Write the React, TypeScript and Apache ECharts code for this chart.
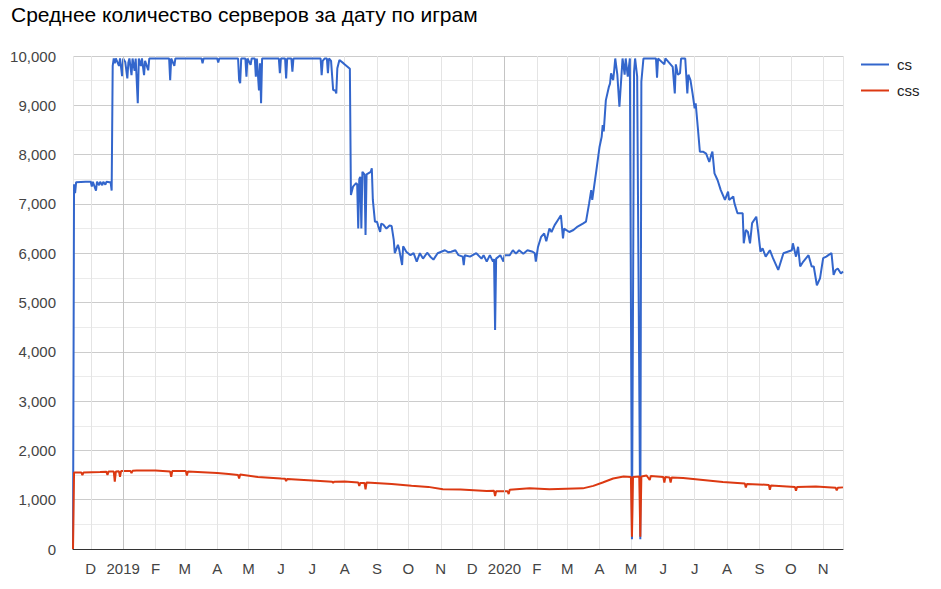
import React, { useEffect, useRef } from 'react';
import * as echarts from 'echarts';

const chartTitle = 'Среднее количество серверов за дату по играм';
const seriesNames = ['cs', 'css'];
const monthLetters = ['J', 'F', 'M', 'A', 'M', 'J', 'J', 'A', 'S', 'O', 'N', 'D'];
const yearStarts = ['2019-01-01', '2020-01-01'];

// daily averages, only the turning points are kept
const csPoints: [string, number][] = [
  ['2018-11-14', 0], ['2018-11-15', 7400], ['2018-11-16', 7220], ['2018-11-17', 7440],
  ['2018-11-26', 7450], ['2018-12-01', 7450], ['2018-12-02', 7350], ['2018-12-03', 7450],
  ['2018-12-06', 7270], ['2018-12-07', 7450], ['2018-12-09', 7380], ['2018-12-10', 7450],
  ['2018-12-12', 7380], ['2018-12-13', 7450], ['2018-12-15', 7390], ['2018-12-16', 7450],
  ['2018-12-19', 7440], ['2018-12-20', 7440], ['2018-12-21', 7270], ['2018-12-22', 9800],
  ['2018-12-23', 9950], ['2018-12-24', 9850], ['2018-12-25', 9950], ['2018-12-28', 9800],
  ['2018-12-29', 9950], ['2018-12-31', 9590], ['2019-01-01', 9950], ['2019-01-03', 9880],
  ['2019-01-05', 9545], ['2019-01-06', 9870], ['2019-01-07', 9950], ['2019-01-09', 9610],
  ['2019-01-10', 9950], ['2019-01-12', 9700], ['2019-01-13', 9950], ['2019-01-15', 9040],
  ['2019-01-16', 9950], ['2019-01-18', 9800], ['2019-01-19', 9950], ['2019-01-21', 9610],
  ['2019-01-22', 9900], ['2019-01-25', 9710], ['2019-01-26', 9950], ['2019-02-14', 9950],
  ['2019-02-15', 9510], ['2019-02-16', 9950], ['2019-02-19', 9800], ['2019-02-20', 9950],
  ['2019-03-17', 9950], ['2019-03-18', 9850], ['2019-03-19', 9950], ['2019-04-01', 9950],
  ['2019-04-02', 9870], ['2019-04-03', 9950], ['2019-04-21', 9950], ['2019-04-22', 9510],
  ['2019-04-23', 9450], ['2019-04-24', 9950], ['2019-04-28', 9950], ['2019-04-29', 9580],
  ['2019-04-30', 9950], ['2019-05-03', 9820], ['2019-05-04', 9950], ['2019-05-07', 9950],
  ['2019-05-08', 9580], ['2019-05-09', 9950], ['2019-05-11', 9300], ['2019-05-12', 9850],
  ['2019-05-13', 9040], ['2019-05-14', 9950], ['2019-05-30', 9950], ['2019-05-31', 9650],
  ['2019-06-01', 9950], ['2019-06-05', 9950], ['2019-06-06', 9545], ['2019-06-07', 9950],
  ['2019-06-11', 9950], ['2019-06-12', 9680], ['2019-06-13', 9950], ['2019-07-09', 9950],
  ['2019-07-10', 9610], ['2019-07-11', 9900], ['2019-07-13', 9950], ['2019-07-15', 9950],
  ['2019-07-16', 9650], ['2019-07-17', 9950], ['2019-07-19', 9900], ['2019-07-21', 9310],
  ['2019-07-23', 9300], ['2019-07-24', 9240], ['2019-07-25', 9750], ['2019-07-27', 9920],
  ['2019-07-31', 9850], ['2019-08-06', 9740], ['2019-08-07', 7180], ['2019-08-09', 7350],
  ['2019-08-12', 7420], ['2019-08-13', 7400], ['2019-08-14', 6500], ['2019-08-15', 7500],
  ['2019-08-16', 7550], ['2019-08-17', 6500], ['2019-08-18', 7650], ['2019-08-20', 7600],
  ['2019-08-21', 6370], ['2019-08-22', 7600], ['2019-08-26', 7650], ['2019-08-27', 7720],
  ['2019-08-28', 7080], ['2019-08-30', 6640], ['2019-09-01', 6640], ['2019-09-02', 6560],
  ['2019-09-04', 6430], ['2019-09-05', 6600], ['2019-09-07', 6580], ['2019-09-10', 6500],
  ['2019-09-13', 6560], ['2019-09-15', 6550], ['2019-09-17', 6270], ['2019-09-18', 6000],
  ['2019-09-21', 6170], ['2019-09-22', 6100], ['2019-09-25', 5760], ['2019-09-26', 6140],
  ['2019-09-29', 6030], ['2019-10-03', 5960], ['2019-10-06', 6000], ['2019-10-09', 5830],
  ['2019-10-12', 6000], ['2019-10-15', 5890], ['2019-10-19', 6010], ['2019-10-22', 5930],
  ['2019-10-25', 5870], ['2019-10-29', 6000], ['2019-11-05', 6060], ['2019-11-08', 6020],
  ['2019-11-11', 6030], ['2019-11-15', 6060], ['2019-11-18', 5960], ['2019-11-22', 5930],
  ['2019-11-23', 5760], ['2019-11-24', 5960], ['2019-11-29', 5930], ['2019-12-05', 6000],
  ['2019-12-10', 5890], ['2019-12-12', 5960], ['2019-12-15', 5830], ['2019-12-18', 5960],
  ['2019-12-21', 5830], ['2019-12-22', 5880], ['2019-12-23', 4440], ['2019-12-24', 5890],
  ['2019-12-28', 5960], ['2019-12-31', 5830], ['2020-01-01', 5960], ['2020-01-06', 5960],
  ['2020-01-09', 6060], ['2020-01-12', 5990], ['2020-01-15', 6060], ['2020-01-19', 5990],
  ['2020-01-23', 6060], ['2020-01-28', 6030], ['2020-01-30', 6000], ['2020-01-31', 5830],
  ['2020-02-02', 6120], ['2020-02-05', 6330], ['2020-02-08', 6400], ['2020-02-10', 6240],
  ['2020-02-13', 6500], ['2020-02-15', 6430], ['2020-02-18', 6570], ['2020-02-21', 6670],
  ['2020-02-24', 6770], ['2020-02-26', 6300], ['2020-02-27', 6500], ['2020-03-03', 6430],
  ['2020-03-07', 6470], ['2020-03-11', 6540], ['2020-03-16', 6600], ['2020-03-19', 6640],
  ['2020-03-22', 7010], ['2020-03-24', 7280], ['2020-03-25', 7080], ['2020-03-29', 7690],
  ['2020-04-01', 8160], ['2020-04-03', 8360], ['2020-04-04', 8600], ['2020-04-05', 8470],
  ['2020-04-07', 9100], ['2020-04-10', 9380], ['2020-04-11', 9440], ['2020-04-12', 9650],
  ['2020-04-14', 9510], ['2020-04-15', 9710], ['2020-04-16', 9950], ['2020-04-18', 9620],
  ['2020-04-20', 8970], ['2020-04-23', 9950], ['2020-04-25', 9620], ['2020-04-26', 9950],
  ['2020-04-28', 9580], ['2020-04-30', 9950], ['2020-05-02', 200], ['2020-05-04', 9680],
  ['2020-05-05', 9950], ['2020-05-07', 9580], ['2020-05-10', 200], ['2020-05-11', 9480],
  ['2020-05-13', 9950], ['2020-05-25', 9950], ['2020-05-26', 9560], ['2020-05-27', 9950],
  ['2020-06-02', 9830], ['2020-06-03', 9950], ['2020-06-10', 9780], ['2020-06-12', 9240],
  ['2020-06-13', 9830], ['2020-06-15', 9620], ['2020-06-17', 9650], ['2020-06-18', 9950],
  ['2020-06-22', 9950], ['2020-06-24', 9240], ['2020-06-25', 9620], ['2020-06-27', 9510],
  ['2020-06-29', 9240], ['2020-07-01', 8940], ['2020-07-02', 9040], ['2020-07-04', 8560],
  ['2020-07-06', 8060], ['2020-07-09', 8060], ['2020-07-12', 8020], ['2020-07-15', 7850],
  ['2020-07-17', 8000], ['2020-07-18', 8060], ['2020-07-20', 7620], ['2020-07-23', 7480],
  ['2020-07-26', 7280], ['2020-07-30', 7080], ['2020-08-02', 7250], ['2020-08-03', 7080],
  ['2020-08-07', 7150], ['2020-08-08', 7020], ['2020-08-11', 6810], ['2020-08-16', 6810],
  ['2020-08-17', 6200], ['2020-08-19', 6470], ['2020-08-21', 6430], ['2020-08-23', 6200],
  ['2020-08-25', 6610], ['2020-08-29', 6740], ['2020-08-31', 6400], ['2020-09-02', 6030],
  ['2020-09-04', 6100], ['2020-09-07', 5930], ['2020-09-11', 6060], ['2020-09-14', 5900],
  ['2020-09-19', 5660], ['2020-09-24', 6000], ['2020-09-28', 6030], ['2020-10-02', 6060],
  ['2020-10-03', 6200], ['2020-10-06', 5930], ['2020-10-08', 6130], ['2020-10-10', 5730],
  ['2020-10-13', 5830], ['2020-10-18', 5960], ['2020-10-21', 5730], ['2020-10-23', 5730],
  ['2020-10-26', 5350], ['2020-10-29', 5490], ['2020-11-01', 5900], ['2020-11-04', 5930],
  ['2020-11-06', 5960], ['2020-11-09', 6000], ['2020-11-11', 5560], ['2020-11-13', 5660],
  ['2020-11-15', 5690], ['2020-11-18', 5590], ['2020-11-20', 5630],
];

const cssPoints: [string, number][] = [
  ['2018-11-14', 0], ['2018-11-15', 1550], ['2018-11-22', 1550], ['2018-11-23', 1500],
  ['2018-11-24', 1550], ['2018-12-10', 1560], ['2018-12-16', 1565], ['2018-12-17', 1500],
  ['2018-12-18', 1570], ['2018-12-23', 1570], ['2018-12-24', 1365], ['2018-12-25', 1570],
  ['2018-12-28', 1575], ['2018-12-29', 1465], ['2018-12-30', 1580], ['2019-01-08', 1580],
  ['2019-01-09', 1540], ['2019-01-10', 1585], ['2019-01-14', 1590], ['2019-02-01', 1590],
  ['2019-02-15', 1570], ['2019-02-16', 1465], ['2019-02-17', 1580], ['2019-03-02', 1580],
  ['2019-03-03', 1490], ['2019-03-04', 1570], ['2019-04-01', 1540], ['2019-04-12', 1520],
  ['2019-04-21', 1500], ['2019-04-22', 1430], ['2019-04-23', 1510], ['2019-05-10', 1460],
  ['2019-06-01', 1430], ['2019-06-05', 1425], ['2019-06-06', 1380], ['2019-06-07', 1420],
  ['2019-07-01', 1390], ['2019-07-20', 1365], ['2019-07-21', 1340], ['2019-07-22', 1365],
  ['2019-08-01', 1370], ['2019-08-14', 1350], ['2019-08-15', 1280], ['2019-08-16', 1340],
  ['2019-08-20', 1340], ['2019-08-21', 1210], ['2019-08-22', 1350], ['2019-09-15', 1320],
  ['2019-10-04', 1285], ['2019-10-20', 1260], ['2019-11-03', 1210], ['2019-11-20', 1205],
  ['2019-12-15', 1175], ['2019-12-22', 1180], ['2019-12-23', 1075], ['2019-12-24', 1170],
  ['2020-01-04', 1170], ['2020-01-05', 1115], ['2020-01-06', 1200], ['2020-01-25', 1230],
  ['2020-02-13', 1210], ['2020-03-16', 1230], ['2020-03-26', 1280], ['2020-04-04', 1350],
  ['2020-04-14', 1430], ['2020-04-24', 1470], ['2020-05-01', 1460], ['2020-05-02', 250],
  ['2020-05-03', 1460], ['2020-05-09', 1470], ['2020-05-10', 250], ['2020-05-11', 1470],
  ['2020-05-16', 1490], ['2020-05-19', 1400], ['2020-05-20', 1480], ['2020-06-01', 1460],
  ['2020-06-02', 1350], ['2020-06-03', 1460], ['2020-06-07', 1450], ['2020-06-08', 1350],
  ['2020-06-09', 1450], ['2020-06-20', 1440], ['2020-07-09', 1400], ['2020-07-28', 1360],
  ['2020-08-18', 1330], ['2020-08-19', 1250], ['2020-08-20', 1320], ['2020-09-10', 1300],
  ['2020-09-11', 1200], ['2020-09-12', 1290], ['2020-10-05', 1260], ['2020-10-06', 1180],
  ['2020-10-07', 1260], ['2020-10-25', 1270], ['2020-11-13', 1240], ['2020-11-14', 1190],
  ['2020-11-15', 1240], ['2020-11-20', 1250],
];

const FONT = 'Arial, "Liberation Sans", sans-serif';

const App: React.FC = () => {
  const chartRef = useRef<HTMLDivElement>(null);

  useEffect(() => {
    if (!chartRef.current) return;
    const chart = echarts.init(chartRef.current, null, { renderer: 'svg' });

    const option: echarts.EChartsOption = {
      animation: false,
      title: {
        text: chartTitle,
        left: 6,
        top: -1,
        textStyle: { fontFamily: FONT, fontSize: 21, fontWeight: 'normal', color: '#000' },
      },
      legend: {
        data: seriesNames,
        orient: 'vertical',
        left: 861,
        top: 57,
        padding: 0,
        icon: 'rect',
        itemWidth: 28,
        itemHeight: 2,
        itemGap: 11,
        textStyle: { fontFamily: FONT, fontSize: 15, color: '#222', lineHeight: 15, padding: [0, 0, 0, 3] },
      },
      grid: { left: 73, right: 98, top: 56, bottom: 40, containLabel: false, outerBoundsMode: 'none' } as any,
      xAxis: {
        type: 'time',
        min: '2018-11-14',
        max: '2020-11-20',
        splitNumber: 24,
        axisLine: { lineStyle: { color: '#333', width: 1 } },
        axisTick: { show: false },
        axisLabel: {
          fontFamily: FONT,
          fontSize: 15,
          color: '#444',
          margin: 12,
          hideOverlap: false,
          formatter: (value: number) => {
            const d = new Date(value);
            if (d.getDate() !== 1) return '';
            return d.getMonth() === 0 ? String(d.getFullYear()) : monthLetters[d.getMonth()];
          },
        } as any,
        splitLine: { show: true, lineStyle: { color: '#e4e4e4', width: 1 } },
      },
      yAxis: {
        type: 'value',
        min: 0,
        max: 10000,
        interval: 1000,
        axisLine: { show: false },
        axisTick: { show: false },
        axisLabel: {
          fontFamily: FONT,
          fontSize: 15,
          color: '#444',
          margin: 17,
          formatter: (v: number) => v.toLocaleString('en-US'),
        },
        splitLine: { lineStyle: { color: '#cccccc', width: 1 } },
        minorTick: { show: false, splitNumber: 2 },
        minorSplitLine: { show: true, lineStyle: { color: '#ebebeb', width: 1 } },
      },
      series: [
        {
          name: 'years',
          type: 'line',
          data: [],
          z: 1,
          silent: true,
          markLine: {
            silent: true,
            symbol: ['none', 'none'],
            label: { show: false },
            lineStyle: { color: '#c4c4c4', width: 1, type: 'solid' },
            data: yearStarts.map((d) => ({ xAxis: d })),
          },
        },
        {
          name: seriesNames[0],
          type: 'line',
          data: csPoints,
          showSymbol: false,
          z: 2,
          lineStyle: { color: '#3366cc', width: 2 },
          itemStyle: { color: '#3366cc' },
        },
        {
          name: seriesNames[1],
          type: 'line',
          data: cssPoints,
          showSymbol: false,
          z: 3,
          lineStyle: { color: '#dc3912', width: 2 },
          itemStyle: { color: '#dc3912' },
        },
      ],
    };

    chart.setOption(option);
    return () => {
      chart.dispose();
    };
  }, []);

  return (
    <div
      ref={chartRef}
      style={{ position: 'absolute', left: 0, top: 0, width: '941px', height: '589px', background: '#fff' }}
    />
  );
};

export default App;
